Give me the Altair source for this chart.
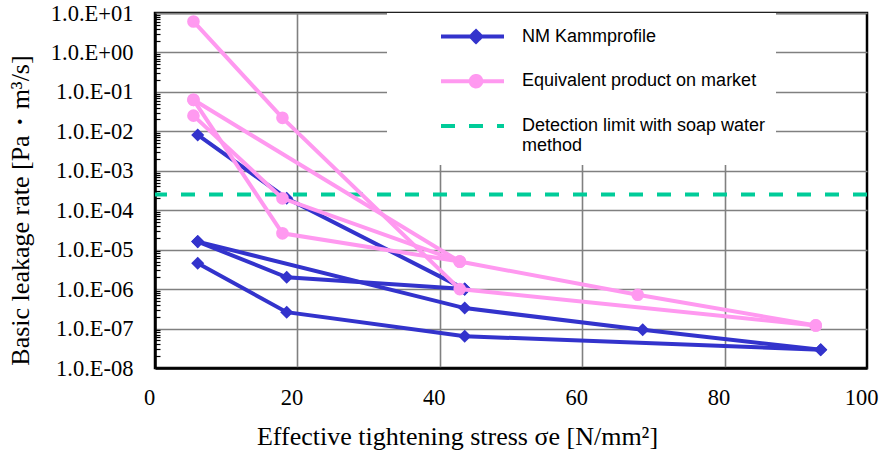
import altair as alt
import pandas as pd

# ---------------- data ----------------
# NM Kammprofile (blue, diamonds)
nm_a_x = [6.0, 18.5, 43.5]
nm_a_y = [8.1e-3, 2.0e-4, 1.0e-6]
nm_b_x = [6.0, 18.5, 43.5]
nm_b_y = [1.6e-5, 2.0e-6, 1.0e-6]
nm_c_x = [6.0, 43.5, 68.5, 93.5]
nm_c_y = [1.6e-5, 3.3e-7, 9.3e-8, 2.9e-8]
nm_d_x = [6.0, 18.5, 43.5, 93.5]
nm_d_y = [4.5e-6, 2.6e-7, 6.4e-8, 2.9e-8]

# Equivalent product on market (pink, circles)
eq_a_x = [5.4, 17.9, 42.8, 92.8]
eq_a_y = [6.1, 2.2e-2, 1.0e-6, 1.2e-7]
eq_b_x = [5.4, 42.8, 67.8, 92.8]
eq_b_y = [6.3e-2, 5.0e-6, 7.2e-7, 1.2e-7]
eq_c_x = [5.4, 17.9, 42.8]
eq_c_y = [6.3e-2, 2.6e-5, 5.0e-6]
eq_d_x = [5.4, 17.9, 42.8]
eq_d_y = [2.5e-2, 2.0e-4, 5.0e-6]

# Detection limit with soap water method
detection_limit = [2.5e-4]

products = ["NM Kammprofile", "Equivalent product on market",
            "Detection limit with soap water method"]
colors = ["#3333CC", "#FF99F0", "#00CC99"]

x_ticks = [0, 20, 40, 60, 80, 100]
y_major = [1e-8, 1e-7, 1e-6, 1e-5, 1e-4, 1e-3, 1e-2, 1e-1, 1e0, 1e1]
y_minor = [m * d for d in y_major[:-1] for m in range(2, 10)]

# ---------------- tables ----------------
def rows(product, series, xs, ys):
    return [{"product": product, "series": series, "x": x, "y": y, "order": i}
            for i, (x, y) in enumerate(zip(xs, ys))]

nm_df = pd.DataFrame(rows(products[0], "a", nm_a_x, nm_a_y)
                     + rows(products[0], "b", nm_b_x, nm_b_y)
                     + rows(products[0], "c", nm_c_x, nm_c_y)
                     + rows(products[0], "d", nm_d_x, nm_d_y))
eq_df = pd.DataFrame(rows(products[1], "a", eq_a_x, eq_a_y)
                     + rows(products[1], "b", eq_b_x, eq_b_y)
                     + rows(products[1], "c", eq_c_x, eq_c_y)
                     + rows(products[1], "d", eq_d_x, eq_d_y))
lim_df = pd.DataFrame({"y": detection_limit})
leg_df = pd.DataFrame({"product": products})

# ---------------- scales / axes ----------------
W, H = 712, 355
serif = "Liberation Serif"
sans = "Liberation Sans"

xscale = alt.Scale(domain=[0, 100], nice=False, zero=False)
yscale = alt.Scale(type="log", domain=[1e-8, 10], nice=False)

x_axis = alt.Axis(
    values=x_ticks, grid=True, gridColor="#808080", gridWidth=1.6,
    gridOpacity={"condition": {"test": "datum.value == 0 || datum.value == 100", "value": 0}, "value": 1},
    ticks=False, domain=True, domainColor="black", domainWidth=2.5,
    labelFont=serif, labelFontSize=22.5, labelColor="black", labelPadding=18,
    labelFlush=False, labelOffset=-6,
    title="Effective tightening stress σe [N/mm²]", titleFont=serif, titleFontSize=26,
    titleFontWeight="normal", titleColor="black", titleX=302, titleY=68,
    titleAlign="center", titleBaseline="middle", titleAnchor="start",
)

exp_expr = "round(log(datum.value)/LN10)"
y_axis = alt.Axis(
    values=y_major, grid=True, gridColor="#808080", gridWidth=1.6,
    ticks=False, domain=True, domainColor="black", domainWidth=2.5,
    labelFont=serif, labelFontSize=22.5, labelColor="black", labelPadding=22,
    labelFlush=False,
    labelExpr=("'1.0.E' + (" + exp_expr + " < 0 ? '-' : '+') + (abs(" + exp_expr
               + ") < 10 ? '0' : '') + abs(" + exp_expr + ")"),
    title="Basic leakage rate [Pa・m³/s]", titleFont=serif, titleFontSize=26,
    titleFontWeight="normal", titleColor="black", titleX=-135, titleY=197,
    titleAngle=-90, titleAlign="center", titleBaseline="middle", titleAnchor="start",
)

minor_axis = alt.Axis(
    orient="right", offset=-W, values=y_minor, grid=False, domain=False,
    labels=False, ticks=True, tickSize=5, tickColor="black", tickWidth=1.2, title=None,
)

x_enc = alt.X("x:Q", scale=xscale, axis=x_axis)

# ---------------- layers ----------------
limit = alt.Chart(lim_df).mark_rule(
    color=colors[2], strokeWidth=4, strokeDash=[14, 14]
).encode(y=alt.Y("y:Q", scale=yscale, axis=minor_axis))

nm_lines = alt.Chart(nm_df).mark_line(color=colors[0], strokeWidth=4).encode(
    x=x_enc, y=alt.Y("y:Q", scale=yscale, axis=y_axis), detail="series:N", order="order:Q")
nm_pts = alt.Chart(nm_df).mark_point(
    shape="diamond", filled=True, size=170, color=colors[0], opacity=1
).encode(x=x_enc, y=alt.Y("y:Q", scale=yscale, axis=None))

eq_lines = alt.Chart(eq_df).mark_line(color=colors[1], strokeWidth=4).encode(
    x=x_enc, y=alt.Y("y:Q", scale=yscale, axis=None), detail="series:N", order="order:Q")
eq_pts = alt.Chart(eq_df).mark_point(
    shape="circle", filled=True, size=160, color=colors[1], opacity=1
).encode(x=x_enc, y=alt.Y("y:Q", scale=yscale, axis=None))

# legend symbols: line with marker (custom paths)
sym_nm = "M-0.2,0L1,0M0.367,0L0.467,-0.1L0.567,0L0.467,0.1Z"
sym_eq = "M-0.2,0L1,0M0.367,0A0.1,0.1 0 1,0 0.567,0A0.1,0.1 0 1,0 0.367,0Z"
sym_lim = "M-0.2,0L1,0"

pad = "\u00a0" * 8
legend = alt.Legend(
    orient="none", legendX=232, legendY=0, fillColor="white", padding=10,
    symbolSize=11025, symbolStrokeWidth=4, clipHeight=27, rowPadding=17.7,
    labelFont=sans, labelFontSize=18, labelColor="black", labelOffset=16,
    labelLimit=500, title=None,
    labelExpr=("datum.label == 'Detection limit with soap water method' ? "
               "['Detection limit with soap water', 'method'] : "
               "(datum.label == 'Equivalent product on market' ? datum.label + '" + pad + "' : datum.label)"),
)
leg_field = "product:N"
legend_layer = alt.Chart(leg_df).transform_filter("false").mark_point(
    filled=True, opacity=1
).encode(
    color=alt.Color(leg_field, scale=alt.Scale(domain=products, range=colors), legend=legend),
    stroke=alt.Stroke(leg_field, scale=alt.Scale(domain=products, range=colors), legend=legend),
    shape=alt.Shape(leg_field, scale=alt.Scale(domain=products, range=[sym_nm, sym_eq, sym_lim]), legend=legend),
    strokeDash=alt.StrokeDash(leg_field, scale=alt.Scale(domain=products, range=[[1, 0], [1, 0], [14, 14]]), legend=legend),
)

chart = alt.layer(
    nm_lines, limit, nm_pts, eq_lines, eq_pts, legend_layer
).resolve_axis(y="independent").properties(
    width=W, height=H,
    autosize=alt.AutoSizeParams(type="none"),
    padding={"left": 155, "top": 13, "right": 15, "bottom": 88},
    background="white",
).configure_view(stroke="black", strokeWidth=2.5)

chart.save("out.html", embed_options={"renderer": "svg", "actions": False})
